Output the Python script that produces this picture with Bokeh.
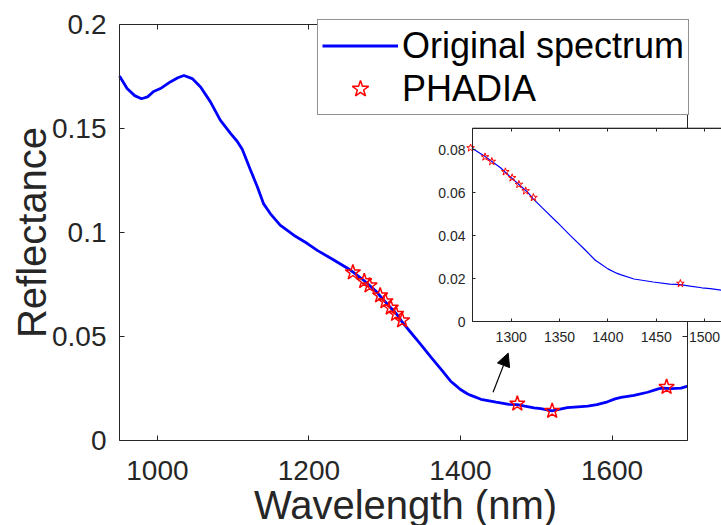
from bokeh.plotting import figure
from bokeh.models import (Range1d, LinearAxis, FixedTicker, Legend, LegendItem,
                          Arrow, NormalHead, Label, Grid)
from bokeh.embed import file_html
from bokeh.resources import INLINE

# ---------------- data ----------------
wavelength = [950, 960, 970, 979, 987, 995, 1004, 1017, 1027, 1035, 1046, 1057, 1070,
              1083, 1097, 1105, 1112, 1123, 1132, 1140, 1149, 1162, 1180, 1198, 1211,
              1230, 1252, 1260, 1273, 1289, 1295, 1317, 1323, 1332, 1348, 1361, 1375,
              1387, 1392, 1400, 1409, 1413, 1427, 1447, 1464, 1475, 1485, 1497, 1506,
              1521, 1530, 1541, 1555, 1568, 1580, 1594, 1604, 1612, 1629, 1647, 1662,
              1668, 1678, 1691, 1700]
reflectance = [0.1752, 0.1692, 0.1658, 0.1643, 0.1652, 0.1678, 0.1692, 0.1724, 0.1744,
               0.1755, 0.1740, 0.1700, 0.1628, 0.1540, 0.1474, 0.1440, 0.1400, 0.1299,
               0.1219, 0.1139, 0.1091, 0.1035, 0.0987, 0.0947, 0.0914, 0.0874, 0.0826,
               0.0805, 0.0768, 0.0716, 0.0690, 0.0602, 0.0570, 0.0530, 0.0460, 0.0401,
               0.0340, 0.0285, 0.0270, 0.0245, 0.0225, 0.0218, 0.0198, 0.0184, 0.0174,
               0.0172, 0.0165, 0.0157, 0.0153, 0.0143, 0.0150, 0.0158, 0.0162, 0.0165,
               0.0172, 0.0186, 0.0200, 0.0207, 0.0217, 0.0232, 0.0249, 0.0252, 0.0249,
               0.0252, 0.0261]
phadia_wl = [1258, 1273, 1280, 1294, 1301, 1308, 1315, 1323, 1475, 1521, 1672]
phadia_refl = [0.0808, 0.0766, 0.0745, 0.0697, 0.0669, 0.0638, 0.0608, 0.0577,
               0.0177, 0.0142, 0.0257]

x_limits = (950, 1700)
y_limits = (0, 0.2)
x_ticks = [1000, 1200, 1400, 1600]
y_ticks = [0, 0.05, 0.1, 0.15, 0.2]
y_tick_labels = ["0", "0.05", "0.1", "0.15", "0.2"]

inset_x_limits = (1260, 1560)
inset_y_limits = (0, 0.09)
inset_x_ticks = [1300, 1350, 1400, 1450, 1500, 1550]
inset_y_ticks = [0, 0.02, 0.04, 0.06, 0.08]
inset_y_tick_labels = ["0", "0.02", "0.04", "0.06", "0.08"]

arrow_start = (1443, 0.0232)
arrow_end = (1463, 0.0420)

x_label = "Wavelength (nm)"
y_label = "Reflectance"
series_names = ["Original spectrum", "PHADIA"]

# ---------------- layout / style (pixels) ----------------
FONT = "Liberation Sans"
INK = "#262626"
BLUE = "#0000FF"
RED = "#FF0000"

W, H = 721, 525
BOX_L, BOX_T, BOX_B, BOX_R = 119, 24, 440, 687.3   # main axes box
IN_L, IN_T, IN_B = 472, 127.7, 321                 # inset box left / top / bottom
IN_PX_PER_NM = 0.967
XLABEL_PX = (405, 504)               # anchor of x title
YLABEL_PX = (31, 232)                # anchor of y title
LEGEND_PX = (317, 115)               # legend left, legend bottom

# the plotting frame covers the whole canvas; ranges are set so that the
# axes box lands where it is in the reference
kx = (BOX_R - BOX_L) / (x_limits[1] - x_limits[0])
ky = (BOX_B - BOX_T) / (y_limits[1] - y_limits[0])
main_x_range = Range1d(x_limits[0] - BOX_L / kx, x_limits[0] + (W - BOX_L) / kx)
main_y_range = Range1d(y_limits[0] - (H - BOX_B) / ky, y_limits[0] + BOX_B / ky)

kiy = (IN_B - IN_T) / (inset_y_limits[1] - inset_y_limits[0])
inset_x_range = Range1d(inset_x_limits[0] - IN_L / IN_PX_PER_NM,
                        inset_x_limits[0] + (W - IN_L) / IN_PX_PER_NM)
inset_y_range = Range1d(inset_y_limits[0] - (H - IN_B) / kiy,
                        inset_y_limits[0] + IN_B / kiy)


def px_to_x(px):
    return x_limits[0] + (px - BOX_L) / kx


def px_to_y(py):
    return y_limits[0] + (BOX_B - py) / ky


p = figure(width=W, height=H, x_range=main_x_range, y_range=main_y_range,
           x_axis_location=None, y_axis_location=None,
           output_backend="svg", toolbar_location=None,
           min_border_left=0, min_border_top=0, min_border_bottom=0, min_border_right=0)
p.outline_line_color = None
p.background_fill_color = "white"
p.border_fill_color = "white"
p.center = [r for r in p.center if not isinstance(r, Grid)]
p.extra_x_ranges = {"ix": inset_x_range}
p.extra_y_ranges = {"iy": inset_y_range}


def style_axis(ax, font_size, standoff, tick_in=5, labels=True):
    ax.axis_line_color = INK
    ax.axis_line_width = 1
    ax.major_tick_line_color = INK
    ax.major_tick_in = tick_in
    ax.major_tick_out = 0
    ax.minor_tick_line_color = None
    ax.major_label_text_font = FONT
    ax.major_label_standoff = standoff
    ax.major_label_text_font_size = font_size
    ax.major_label_text_color = INK if labels else None


# main axes (all drawn at fixed data positions)
ax_b = LinearAxis(ticker=FixedTicker(ticks=x_ticks), bounds=x_limits,
                  fixed_location=y_limits[0])
style_axis(ax_b, "28px", 20)
p.add_layout(ax_b, "below")

ax_t = LinearAxis(ticker=FixedTicker(ticks=x_ticks), bounds=x_limits,
                  fixed_location=y_limits[1])
style_axis(ax_t, "28px", 0, labels=False)
p.add_layout(ax_t, "above")

ax_l = LinearAxis(ticker=FixedTicker(ticks=y_ticks), bounds=y_limits,
                  fixed_location=x_limits[0],
                  major_label_overrides=dict(zip(y_ticks, y_tick_labels)))
style_axis(ax_l, "28px", 13)
p.add_layout(ax_l, "left")

ax_r = LinearAxis(ticker=FixedTicker(ticks=y_ticks), bounds=y_limits,
                  fixed_location=x_limits[1])
style_axis(ax_r, "28px", 0, labels=False)
p.add_layout(ax_r, "right")

# main series
r_line = p.line(wavelength, reflectance, line_color=BLUE, line_width=2.8)
r_star = p.scatter(phadia_wl, phadia_refl, marker="star", size=16,
                   line_color=RED, line_width=1.5, fill_color=None)

# inset (drawn above the main axes)
p.quad(left=[inset_x_limits[0]], right=[inset_x_limits[1]],
       bottom=[inset_y_limits[0]], top=[inset_y_limits[1]],
       x_range_name="ix", y_range_name="iy", level="annotation",
       fill_color="white", line_color=INK, line_width=1)
in_wl = [w for w in wavelength if w >= inset_x_limits[0]]
in_rf = [r for w, r in zip(wavelength, reflectance) if w >= inset_x_limits[0]]
p.line(in_wl, in_rf, x_range_name="ix", y_range_name="iy", level="annotation",
       line_color=BLUE, line_width=1.2)
in_pw = [w for w in phadia_wl if inset_x_limits[0] - 5 <= w <= inset_x_limits[1]]
in_pr = [r for w, r in zip(phadia_wl, phadia_refl)
         if inset_x_limits[0] - 5 <= w <= inset_x_limits[1]]
p.scatter(in_pw, in_pr, x_range_name="ix", y_range_name="iy", marker="star",
          level="annotation", size=8, line_color=RED, line_width=1, fill_color=None)

iax_b = LinearAxis(ticker=FixedTicker(ticks=inset_x_ticks), bounds=inset_x_limits,
                   fixed_location=inset_y_limits[0], x_range_name="ix", y_range_name="iy",
                   level="overlay")
style_axis(iax_b, "14px", 10, tick_in=3)
p.add_layout(iax_b, "below")

iax_t = LinearAxis(ticker=FixedTicker(ticks=inset_x_ticks), bounds=inset_x_limits,
                   fixed_location=inset_y_limits[1], x_range_name="ix", y_range_name="iy",
                   level="overlay")
style_axis(iax_t, "14px", 0, tick_in=3, labels=False)
p.add_layout(iax_t, "above")

iax_l = LinearAxis(ticker=FixedTicker(ticks=inset_y_ticks), bounds=inset_y_limits,
                   fixed_location=inset_x_limits[0], x_range_name="ix", y_range_name="iy",
                   level="overlay",
                   major_label_overrides=dict(zip(inset_y_ticks, inset_y_tick_labels)))
style_axis(iax_l, "14px", 7, tick_in=3)
p.add_layout(iax_l, "left")

# arrow
p.add_layout(Arrow(x_start=arrow_start[0], y_start=arrow_start[1],
                   x_end=arrow_end[0], y_end=arrow_end[1],
                   line_color="black", line_width=1.2,
                   end=NormalHead(size=13, fill_color="black", line_color="black")))

# axis titles
p.add_layout(Label(x=px_to_x(XLABEL_PX[0]), y=px_to_y(XLABEL_PX[1]),
                   text=x_label, text_font=FONT, text_font_size="40px",
                   text_color=INK, text_align="center", text_baseline="alphabetic"))
p.add_layout(Label(x=px_to_x(YLABEL_PX[0]), y=px_to_y(YLABEL_PX[1]),
                   text=y_label, text_font=FONT, text_font_size="40px", angle=90,
                   angle_units="deg", text_color=INK, text_align="center",
                   text_baseline="alphabetic"))

# legend
legend = Legend(items=[LegendItem(label=series_names[0], renderers=[r_line]),
                       LegendItem(label=series_names[1], renderers=[r_star])],
                location=(LEGEND_PX[0], H - LEGEND_PX[1]), margin=0, padding=4, spacing=0,
                label_text_font=FONT, label_text_font_size="36px", label_text_color="black",
                glyph_width=76, glyph_height=43, label_height=43, label_standoff=4,
                border_line_color=INK, border_line_width=1,
                background_fill_color="white", background_fill_alpha=1)
p.add_layout(legend)

open("out.html", "w").write(file_html(p, INLINE))
